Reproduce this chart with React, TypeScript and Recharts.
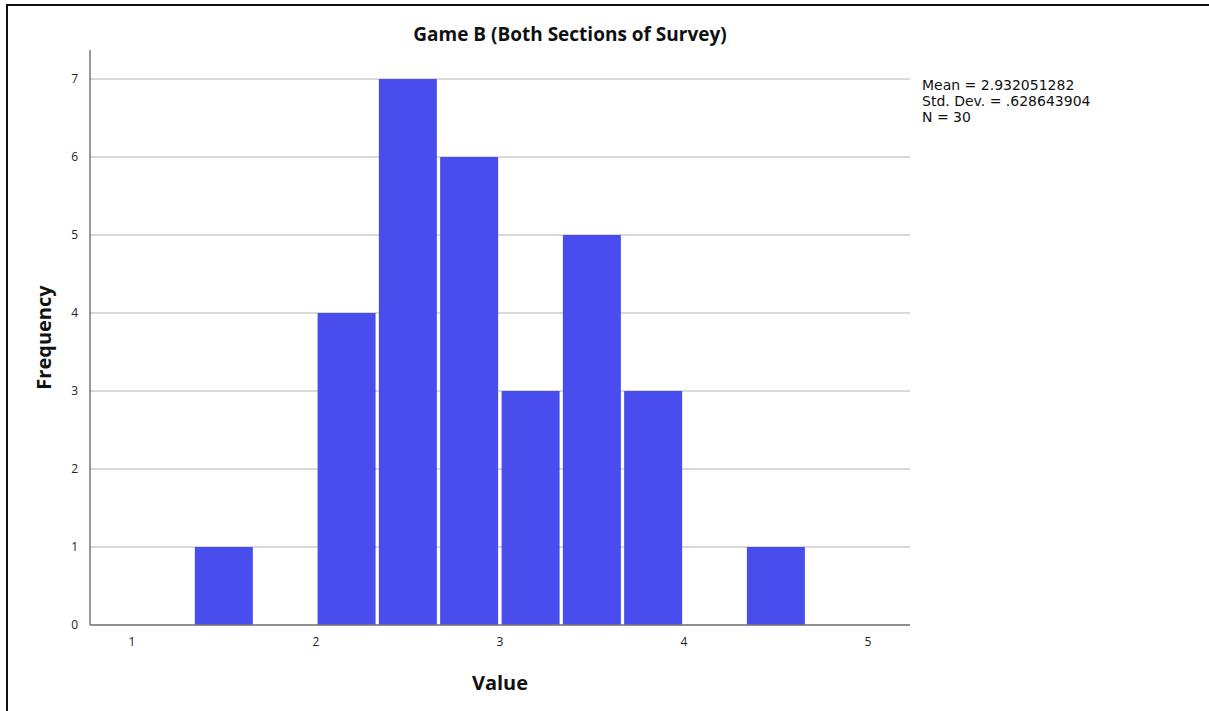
import { BarChart, Bar, XAxis, YAxis, CartesianGrid, Label } from "recharts";

// histogram bins, width 1/3, listed by centre
const binCenters = [1.167, 1.5, 1.833, 2.167, 2.5, 2.833, 3.167, 3.5, 3.833, 4.167, 4.5, 4.833];
const frequencies = [0, 1, 0, 4, 7, 6, 3, 5, 3, 0, 1, 0];

const xTicks = [1, 2, 3, 4, 5];
const yTicks = [0, 1, 2, 3, 4, 5, 6, 7];

const statsLines = ["Mean = 2.932051282", "Std. Dev. = .628643904", "N = 30"];

const data = binCenters.map((center, i) => ({ center, frequency: frequencies[i] }));

const FONT = "'Open Sans', 'DejaVu Sans', sans-serif";
const BAR_COLOR = "#4a4dee";

// keep a thin white gap between neighbouring bins
const BinShape = (props: any) => {
  const { x, y, width, height } = props;
  if (!height || height <= 0) return null;
  return <rect x={x + 1.5} y={y} width={width - 3} height={height} fill={BAR_COLOR} />;
};

export default function App() {
  return (
    <div
      style={{
        position: "absolute",
        left: 0,
        top: 0,
        width: 1209,
        height: 711,
        background: "#fff",
        fontFamily: FONT,
      }}
    >
      {/* frame edges */}
      <div style={{ position: "absolute", left: 6, top: 4, width: 1203, height: 2, background: "#111" }} />
      <div style={{ position: "absolute", left: 6, top: 4, width: 2, height: 707, background: "#111" }} />

      <div
        style={{
          position: "absolute",
          left: 0,
          width: 1140,
          top: 21,
          textAlign: "center",
          fontSize: 19,
          fontWeight: 700,
          color: "#111",
        }}
      >
        Game B (Both Sections of Survey)
      </div>

      <div
        style={{
          position: "absolute",
          left: 922,
          top: 77,
          fontSize: 14,
          lineHeight: "16px",
          color: "#111",
          fontFamily: "'DejaVu Sans', sans-serif",
        }}
      >
        {statsLines.map((line) => (
          <div key={line}>{line}</div>
        ))}
      </div>

      <BarChart
        width={1209}
        height={711}
        data={data}
        barCategoryGap={0}
        barGap={0}
        margin={{ top: 50, right: 299, bottom: 46, left: 60 }}
        style={{ position: "absolute", left: 0, top: 0 }}
      >
        <CartesianGrid horizontal vertical={false} syncWithTicks stroke="#cccccc" strokeWidth={1.5} />
        <XAxis
          dataKey="center"
          type="number"
          domain={[0.772, 5.228]}
          ticks={xTicks}
          allowDataOverflow
          tickLine={false}
          axisLine={{ stroke: "#777", strokeWidth: 1.5 }}
          height={40}
          tick={{ fontSize: 12, fill: "#222", fontFamily: FONT }}
          tickMargin={6}
        >
          <Label
            value="Value"
            position="insideBottom"
            offset={-25}
            style={{ fontSize: 20, fontWeight: 700, fill: "#111", fontFamily: FONT }}
          />
        </XAxis>
        <YAxis
          type="number"
          domain={[0, 7.372]}
          ticks={yTicks}
          allowDataOverflow
          tickLine={false}
          axisLine={{ stroke: "#777", strokeWidth: 1.5 }}
          width={30}
          tick={{ fontSize: 12, fill: "#222", fontFamily: FONT }}
          tickMargin={6}
        >
          <Label
            value="Frequency"
            angle={-90}
            position="insideLeft"
            offset={-16}
            style={{ fontSize: 20, fontWeight: 700, fill: "#111", fontFamily: FONT, textAnchor: "middle" }}
          />
        </YAxis>
        <Bar dataKey="frequency" shape={BinShape} isAnimationActive={false} />
      </BarChart>
    </div>
  );
}
